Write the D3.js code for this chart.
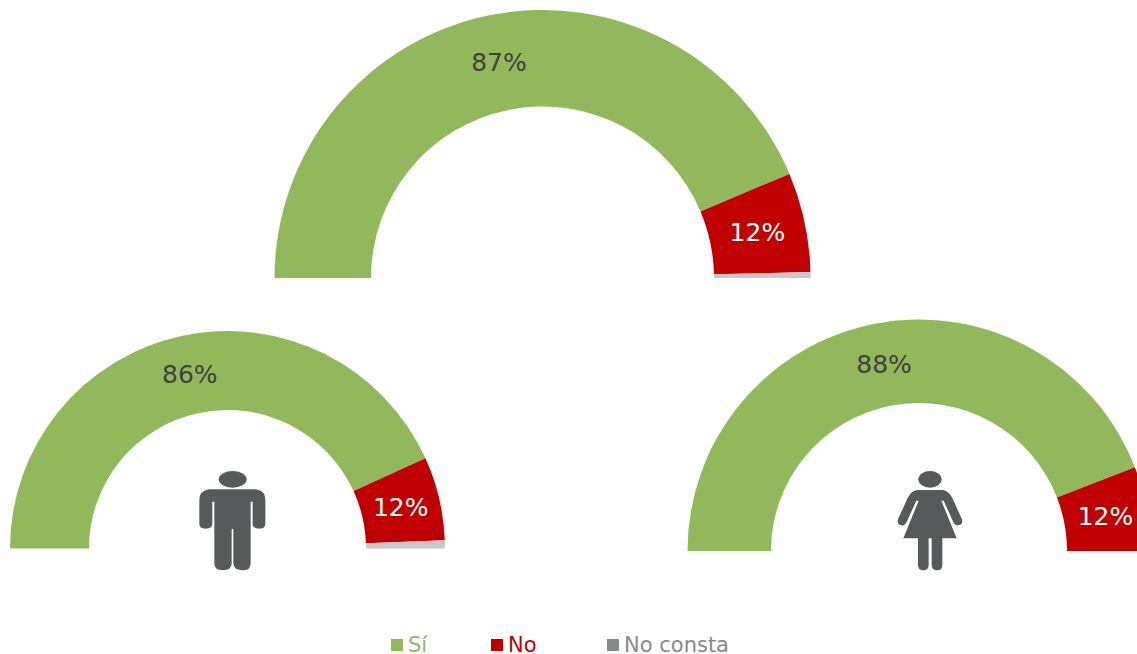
<!DOCTYPE html>
<html lang="es">
<head>
   <meta charset="utf-8">
   <title>Sí / No / No consta</title>
   <script src="https://cdn.jsdelivr.net/npm/d3@7"></script>
   <style type="text/css">
      html, body { margin: 0; padding: 0; background: #fff; overflow: hidden; }
      svg { display: block; }
      text { font-family: "DejaVu Sans", Verdana, sans-serif; }
   </style>
</head>
<body>
   <script type="text/javascript">

      // data
      var categories = ["Sí", "No", "No consta"];
      var totalValues = [87.3, 12.0, 0.7];
      var menValues = [86.4, 12.4, 1.2];
      var womenValues = [88.2, 11.8, 0];
      var totalLabels = ["87%", "12%", ""];
      var menLabels = ["86%", "12%", ""];
      var womenLabels = ["88%", "12%", ""];

      var w = 1137;
      var h = 654;

      var arcColors = d3.scaleOrdinal().domain(categories).range(["#91b95b", "#c00000", "#c8c8c8"]);
      var legendColors = d3.scaleOrdinal().domain(categories).range(["#91b95b", "#c00000", "#87888a"]);
      var labelColors = d3.scaleOrdinal().domain(categories).range(["#404040", "#ffffff", "#404040"]);
      var iconColor = "#58595b";

      var svg = d3.select("body")
                  .append("svg")
                  .attr("width", w)
                  .attr("height", h);

      var pie = d3.pie()
                  .sort(null)
                  .startAngle(-Math.PI / 2)
                  .endAngle(Math.PI / 2);

      function drawGauge(values, labels, cx, cy, inner, outer) {
         var arc = d3.arc().innerRadius(inner).outerRadius(outer);
         var g = svg.append("g").attr("transform", "translate(" + cx + "," + cy + ")");
         var slices = pie(values);

         g.selectAll("path")
            .data(slices)
            .enter()
            .append("path")
            .attr("d", arc)
            .attr("fill", function(d, i) { return arcColors(categories[i]); });

         g.selectAll("text")
            .data(slices)
            .enter()
            .append("text")
            .attr("transform", function(d) { return "translate(" + arc.centroid(d) + ")"; })
            .attr("dy", ".35em")
            .attr("text-anchor", "middle")
            .attr("font-size", "25px")
            .attr("fill", function(d, i) { return labelColors(categories[i]); })
            .text(function(d, i) { return labels[i]; });
      }

      drawGauge(totalValues, totalLabels, 542.5, 278, 171.5, 268);
      drawGauge(menValues, menLabels, 227.5, 548.5, 138.5, 217.5);
      drawGauge(womenValues, womenLabels, 919, 551, 148, 231.5);

      // man icon
      var man = svg.append("g")
                   .attr("transform", "translate(180,450) scale(0.3333)")
                   .attr("fill", iconColor);
      man.append("ellipse").attr("cx", 158).attr("cy", 88).attr("rx", 42).attr("ry", 25);
      man.append("path").attr("d",
         "M88,118 H228 Q256,122 256,150 V222 Q256,236 238,236 Q219,236 218,222 V155 H212 V340 Q212,361 190,361 Q160,361 160,340 V237 H155 V340 Q155,361 128,361 Q103,361 103,340 V155 H97 V222 Q96,236 77,236 Q58,236 58,222 V150 Q58,122 88,118 Z");

      // woman icon
      var woman = svg.append("g")
                     .attr("transform", "translate(880,450) scale(0.3333)")
                     .attr("fill", iconColor);
      woman.append("ellipse").attr("cx", 150).attr("cy", 88).attr("rx", 35).attr("ry", 25);
      woman.append("path").attr("d",
         "M112,120 H188 Q206,122 216,142 L246,208 Q250,222 236,226 Q226,228 220,216 L191,152 L184,152 L230,265 H187 V345 Q187,361 172,361 Q155,361 155,345 V265 H146 V345 Q146,361 130,361 Q114,361 114,345 V265 H70 L116,152 L109,152 L80,216 Q74,228 64,226 Q50,222 54,208 L84,142 Q94,122 112,120 Z");

      // legend
      var legendX = d3.scaleOrdinal().domain(categories).range([391, 491, 607]);
      var legend = svg.selectAll("g.legend")
                      .data(categories)
                      .enter()
                      .append("g")
                      .attr("class", "legend")
                      .attr("transform", function(d) { return "translate(" + legendX(d) + ",639)"; });

      legend.append("rect")
            .attr("width", 12)
            .attr("height", 12)
            .attr("fill", function(d) { return legendColors(d); });

      legend.append("text")
            .attr("x", 17)
            .attr("y", 13)
            .attr("font-size", "21px")
            .attr("fill", function(d) { return legendColors(d); })
            .text(function(d) { return d; });
   </script>
</body>
</html>
